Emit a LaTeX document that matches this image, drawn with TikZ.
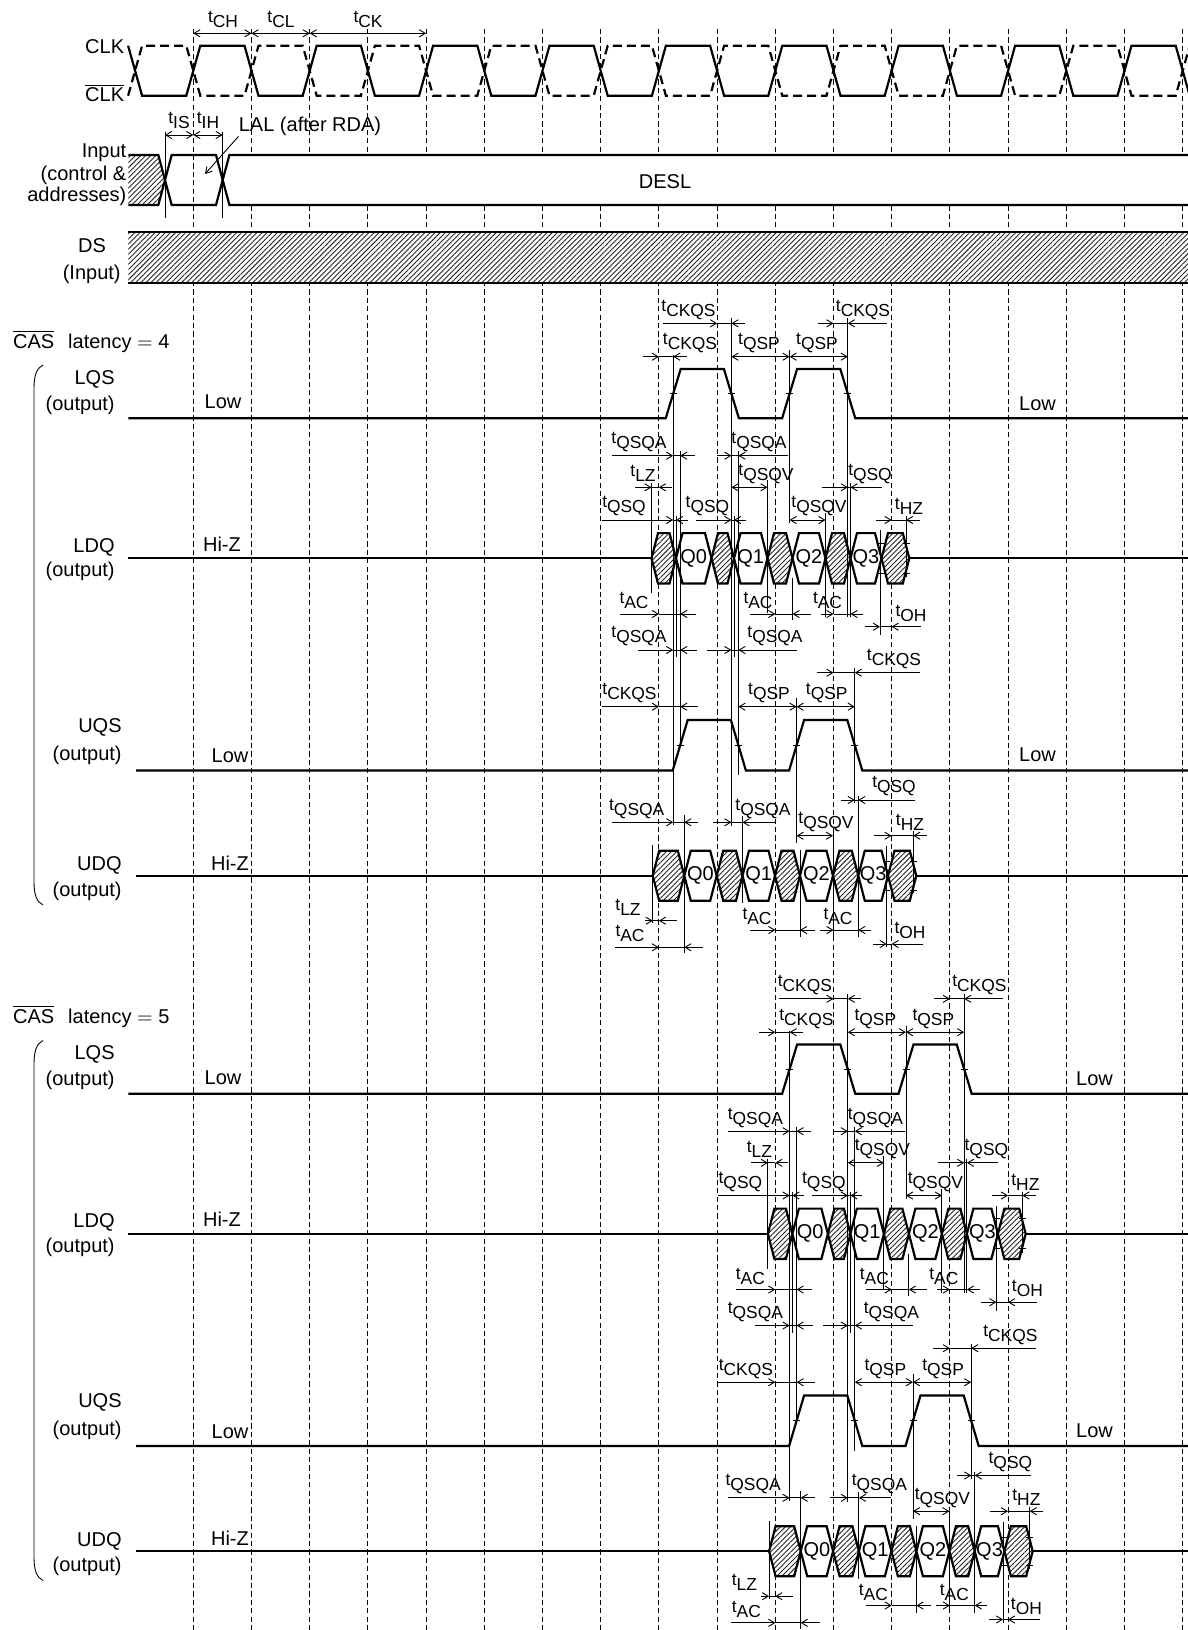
\documentclass[tikz,border=0pt]{standalone}
\usepackage{fontspec}
\setmainfont{Liberation Sans}
\usetikzlibrary{arrows.meta,patterns.meta}

\tikzset{
  sig/.style={line width=1.1pt},
  clkbar/.style={line width=1.1pt,dash pattern=on 4.5pt off 2.5pt},
  gridline/.style={line width=0.5pt,dash pattern=on 2.6pt off 1.6pt},
  dimline/.style={line width=0.45pt},
  refline/.style={line width=0.45pt},
  hatched/.style={pattern={Lines[angle=45,distance=1.8pt,line width=0.45pt]},pattern color=black!85},
  signame/.style={font=\fontsize{10}{12}\selectfont,inner sep=0pt},
  tlabel/.style={font=\fontsize{8.7}{10}\selectfont,inner sep=0pt},
  qlabel/.style={font=\fontsize{10}{12}\selectfont,inner sep=0pt}
}

\newcommand{\tsub}[1]{t\raisebox{-2.5pt}{#1}}
\newcommand{\tlab}[4]{\node[tlabel] (#1) at (#2,{#3-13.5}) {\tsub{#4}};}
\newcommand{\dimin}[5]{%
  \draw[dimline,->] (#2,#1) -- (#3,#1);
  \draw[dimline] (#3,#1) -- (#4,#1);
  \draw[dimline,->] (#5,#1) -- (#4,#1);}
\newcommand{\hatchhex}[4]{%
  \draw[sig,preaction={fill=white},hatched] (#1,#3) -- ({#1+6.5},{#3-#4}) -- ({#2-6.5},{#3-#4}) -- (#2,#3) -- ({#2-6.5},{#3+#4}) -- ({#1+6.5},{#3+#4}) -- cycle;}
\newcommand{\datahex}[6]{%
  \draw[sig,fill=white] (#1,#3) -- ({#1+6.5},{#3-#4}) -- ({#2-6.5},{#3-#4}) -- (#2,#3) -- ({#2-6.5},{#3+#4}) -- ({#1+6.5},{#3+#4}) -- cycle;
  \node[qlabel] (#5) at ({(#1+#2)/2},#3) {#6};}
\newcommand{\edgetick}[2]{\draw[dimline] ({#1-3.5},#2) -- ({#1+3.5},#2);}

\begin{document}
\begin{tikzpicture}[x=0.5pt,y=-0.5pt,>={Straight Barb[length=3pt,width=3.6pt]}]
\useasboundingbox (0,0) rectangle (1188,1630);
\clip (0,0) rectangle (1188,1630);

\foreach \k in {0,...,17}
  \draw[gridline] ({193.3+58.2*\k},29) -- ({193.3+58.2*\k},1630);

% clock
\draw[sig] (128.1,45.7) \foreach \k in {0,2,...,16} {-- ({142.1+58.2*\k},95.7) -- ({186.3+58.2*\k},95.7) -- ({200.3+58.2*\k},45.7) -- ({244.5+58.2*\k},45.7)} -- (1189.7,95.7);
\draw[clkbar] (128.1,95.7) \foreach \k in {0,2,...,16} {-- ({142.1+58.2*\k},45.7) -- ({186.3+58.2*\k},45.7) -- ({200.3+58.2*\k},95.7) -- ({244.5+58.2*\k},95.7)} -- (1189.7,45.7);
\node[signame,anchor=base east] (clk) at (124.5,53.3) {CLK};
\node[signame,anchor=base east] (clkn) at (124.5,101.7) {$\overline{\mbox{CLK}}$};
\draw[dimline,<->] (193.3,33.3) -- (251.5,33.3);
\draw[dimline,<->] (251.5,33.3) -- (309.7,33.3);
\draw[dimline,<->] (309.7,33.3) -- (426.1,33.3);
\tlab{tch}{223}{33.3}{CH}
\tlab{tcl}{281}{33.3}{CL}
\tlab{tck}{368}{33.3}{CK}

% input
\fill[white] (222.7,180) -- (229.4,155) -- (1190,155) -- (1190,205) -- (229.4,205) -- cycle;
\fill[hatched] (128.3,155) -- (158.3,155) -- (165,180) -- (158.3,205) -- (128.3,205) -- cycle;
\draw[sig] (128.3,155) -- (158.3,155) -- (171.7,205) -- (216,205) -- (229.4,155) -- (1190,155);
\draw[sig] (128.3,205) -- (158.3,205) -- (171.7,155) -- (216,155) -- (229.4,205) -- (1190,205);
\draw[refline] (165,131.7) -- (165,218.3);
\draw[refline] (222.7,131.7) -- (222.7,218.3);
\draw[dimline,<->] (165,135) -- (193.3,135);
\draw[dimline,<->] (193.3,135) -- (222.7,135);
\node[tlabel] (tis) at (179,120) {\tsub{IS}};
\node[tlabel] (tih) at (208,120) {\tsub{IH}};
\node[signame] (lal) at (310,126.7) {LAL (after RDA)};
\coordinate (lalend) at (205,174);
\draw[dimline,->] (lal.south west) -- (lalend);
\node[signame] (desl) at (665,181.7) {DESL};
\node[signame,anchor=east] (inp) at (126.7,152.7) {Input};
\node[signame,anchor=east] (inpb) at (126.7,175) {(control \&};
\node[signame,anchor=east] (inpc) at (126.7,196.7) {addresses)};

% DS
\fill[white] (128.3,232.3) rectangle (1190,282.7);
\fill[hatched] (128.3,232.3) rectangle (1190,282.7);
\draw[sig] (128.3,232.3) -- (1190,232.3);
\draw[sig] (128.3,282.7) -- (1190,282.7);
\node[signame] (ds) at (92,245.7) {DS};
\node[signame] (dsb) at (91.7,274) {(Input)};

\foreach \dx/\dy/\lx/\n in {0/0/0/4,116.4/675.5/57/5} {
\begin{scope}[shift={(0,\dy)}]
  \node[signame,anchor=base west] (cas\n) at (12.7,348) {$\overline{\mbox{CAS}}$\hspace{7pt}latency $=$ \n};
  \draw[dimline] (43,365) .. controls (36.5,368) and (34,376) .. (34,388) -- (34,882) .. controls (34,894) and (36.5,902) .. (43,905);
  \node[signame,anchor=east] (lqs\n) at (115,379) {LQS};
  \node[signame,anchor=east] (lqsb\n) at (115,405) {(output)};
  \node[signame] (lqsl\n) at (223,402) {Low};
  \node[signame] (lqsr\n) at ({1037.5+\lx},403.5) {Low};
  \node[signame,anchor=east] (ldq\n) at (115,547) {LDQ};
  \node[signame,anchor=east] (ldqb\n) at (115,571.5) {(output)};
  \node[signame] (ldqz\n) at (222,544) {Hi-Z};
  \node[signame,anchor=east] (uqs\n) at (122,727) {UQS};
  \node[signame,anchor=east] (uqsb\n) at (122,755) {(output)};
  \node[signame] (uqsl\n) at (230,756) {Low};
  \node[signame] (uqsr\n) at ({1037.5+\lx},754.7) {Low};
  \node[signame,anchor=east] (udq\n) at (122,865.5) {UDQ};
  \node[signame,anchor=east] (udqb\n) at (122,891) {(output)};
  \node[signame] (udqz\n) at (230,863) {Hi-Z};
\end{scope}
\begin{scope}[shift={(\dx,\dy)}]
  % LQS
  \draw[sig] ({128.3-\dx},418.3) -- (665.7,418.3) -- (680.7,369) -- (723.9,369) -- (738.9,418.3) -- (782.1,418.3) -- (797.1,369) -- (840.3,369) -- (855.3,418.3) -- ({1190-\dx},418.3);
  \edgetick{673.2}{393.7} \edgetick{731.4}{393.7} \edgetick{789.6}{393.7} \edgetick{847.8}{393.7}
  % LDQ
  \draw[sig] ({128.3-\dx},558.3) -- (651.5,558.3);
  \draw[sig] (909.3,558.3) -- ({1190-\dx},558.3);
  \hatchhex{651.5}{676}{558.3}{25.2}
  \datahex{676}{711.5}{558.3}{25.2}{lqa\n}{Q0}
  \hatchhex{711.5}{734}{558.3}{25.2}
  \datahex{734}{767.5}{558.3}{25.2}{lqb\n}{Q1}
  \hatchhex{767.5}{792.5}{558.3}{25.2}
  \datahex{792.5}{825.5}{558.3}{25.2}{lqc\n}{Q2}
  \hatchhex{825.5}{850.5}{558.3}{25.2}
  \datahex{850.5}{881.5}{558.3}{25.2}{lqd\n}{Q3}
  \hatchhex{881.5}{909.3}{558.3}{25.2}
  \edgetick{880}{543.3} \edgetick{880}{573.3} \edgetick{906}{543.3} \edgetick{906}{573.3}
  % UQS
  \draw[sig] ({136-\dx},770.5) -- (672.7,770.5) -- (687.7,720) -- (730.9,720) -- (745.9,770.5) -- (789.1,770.5) -- (804.1,720) -- (847.3,720) -- (862.3,770.5) -- ({1190-\dx},770.5);
  \edgetick{680.2}{745.2} \edgetick{738.4}{745.2} \edgetick{796.6}{745.2} \edgetick{854.8}{745.2}
  % UDQ
  \draw[sig] ({136-\dx},875.7) -- (652.7,875.7);
  \draw[sig] (916.3,875.7) -- ({1190-\dx},875.7);
  \hatchhex{652.7}{684.3}{875.7}{25}
  \datahex{684.3}{716.7}{875.7}{25}{uqa\n}{Q0}
  \hatchhex{716.7}{742.5}{875.7}{25}
  \datahex{742.5}{775}{875.7}{25}{uqb\n}{Q1}
  \hatchhex{775}{800}{875.7}{25}
  \datahex{800}{833}{875.7}{25}{uqc\n}{Q2}
  \hatchhex{833}{858.3}{875.7}{25}
  \datahex{858.3}{888}{875.7}{25}{uqd\n}{Q3}
  \hatchhex{888}{916.3}{875.7}{25}
  \edgetick{886.7}{861.7} \edgetick{886.7}{890} \edgetick{913.3}{861.7} \edgetick{913.3}{890}
  % reference lines
  \draw[refline] (673.2,355) -- (673.2,825);
  \draw[refline] (731.4,318) -- (731.4,826);
  \draw[refline] (789.6,350) -- (789.6,523);
  \draw[refline] (847.8,318) -- (847.8,617);
  \draw[refline] (680.2,451) -- (680.2,745);
  \draw[refline] (738.4,451) -- (738.4,775);
  \draw[refline] (796.6,698) -- (796.6,843);
  \draw[refline] (854.8,668) -- (854.8,803);
  \draw[refline] (651.5,483) -- (651.5,593);
  \draw[refline] (676,516) -- (676,657);
  \draw[refline] (734,516) -- (734,657);
  \draw[refline] (767.5,480) -- (767.5,613);
  \draw[refline] (792.5,578) -- (792.5,620);
  \draw[refline] (825.5,513) -- (825.5,617);
  \draw[refline] (850.5,483) -- (850.5,617);
  \draw[refline] (880,530) -- (880,635);
  \draw[refline] (906,516) -- (906,577);
  \draw[refline] (652.7,845) -- (652.7,923);
  \draw[refline] (684.3,815) -- (684.3,953);
  \draw[refline] (742.5,816) -- (742.5,903);
  \draw[refline] (800,850) -- (800,937);
  \draw[refline] (833,831) -- (833,937);
  \draw[refline] (858.3,796) -- (858.3,937);
  \draw[refline] (886.7,846) -- (886.7,947);
  \draw[refline] (913.3,831) -- (913.3,893);
  % LQS / LDQ timing
  \dimin{323.3}{663}{717.1}{731.4}{745}
  \tlab{cka\n}{688.5}{323.3}{CKQS}
  \dimin{323.3}{818}{833.5}{847.8}{886.7}
  \tlab{ckb\n}{863}{323.3}{CKQS}
  \dimin{356.7}{643}{658.9}{673.2}{686.7}
  \tlab{ckc\n}{690}{356.7}{CKQS}
  \draw[dimline,<->] (731.4,356.7) -- (789.6,356.7);
  \tlab{spa\n}{759}{356.7}{QSP}
  \draw[dimline,<->] (789.6,356.7) -- (847.8,356.7);
  \tlab{spb\n}{817}{356.7}{QSP}
  \dimin{455.7}{612}{673.2}{680.2}{695}
  \tlab{qaa\n}{639}{455.7}{QSQA}
  \dimin{455.7}{716.7}{731.4}{738.4}{788.3}
  \tlab{qab\n}{759}{455.7}{QSQA}
  \dimin{487.3}{635}{651.5}{658.9}{671.7}
  \tlab{lza\n}{643}{487.3}{LZ}
  \draw[dimline,<->] (731.4,487.3) -- (767.5,487.3);
  \tlab{qva\n}{766}{487.3}{QSQV}
  \dimin{487.3}{822}{847.8}{850.5}{881.7}
  \tlab{qqa\n}{870}{487.3}{QSQ}
  \dimin{520}{601.7}{673.2}{676}{688}
  \tlab{qqb\n}{624}{520}{QSQ}
  \dimin{520}{696}{731.4}{734}{746}
  \tlab{qqc\n}{707.5}{520}{QSQ}
  \draw[dimline,<->] (789.6,520) -- (825.5,520);
  \tlab{qvb\n}{819}{520}{QSQV}
  \dimin{520}{876}{891.6}{906}{920}
  \tlab{hza\n}{909}{520}{HZ}
  \dimin{614}{620}{658.9}{680.2}{695.5}
  \tlab{aca\n}{634}{614}{AC}
  \dimin{614}{750}{775.3}{792.5}{810.5}
  \tlab{acb\n}{758}{614}{AC}
  \dimin{614}{821}{833.5}{850.5}{863.3}
  \tlab{acc\n}{827.5}{614}{AC}
  \dimin{626.7}{865}{880}{891.6}{921}
  \tlab{oha\n}{911}{626.7}{OH}
  \dimin{650}{638.3}{673.2}{680.2}{696.7}
  \tlab{qac\n}{639}{650}{QSQA}
  \dimin{650}{706.7}{731.4}{738.4}{796.7}
  \tlab{qad\n}{775}{650}{QSQA}
  % UQS / UDQ timing
  \dimin{672.7}{816.7}{833.5}{854.8}{920}
  \tlab{ckd\n}{894}{672.7}{CKQS}
  \dimin{706.7}{601.7}{658.9}{680.2}{698.3}
  \tlab{cke\n}{629.5}{706.7}{CKQS}
  \draw[dimline,<->] (738.4,706.7) -- (796.6,706.7);
  \tlab{spc\n}{769}{706.7}{QSP}
  \draw[dimline,<->] (796.6,706.7) -- (854.8,706.7);
  \tlab{spd\n}{826.7}{706.7}{QSP}
  \dimin{800}{841}{854.8}{858.3}{915}
  \tlab{qqd\n}{894}{800}{QSQ}
  \dimin{822.3}{611.7}{673.2}{684.3}{698.3}
  \tlab{qae\n}{636.7}{822.3}{QSQA}
  \dimin{822.3}{713.3}{731.4}{742.5}{775}
  \tlab{qaf\n}{763}{822.3}{QSQA}
  \draw[dimline,<->] (796.6,835.7) -- (833,835.7);
  \tlab{qvc\n}{826}{835.7}{QSQV}
  \dimin{835.7}{874}{891.6}{913.3}{926.7}
  \tlab{hzb\n}{910}{835.7}{HZ}
  \dimin{920.7}{645}{652.7}{658.9}{676.7}
  \tlab{lzb\n}{628}{920.7}{LZ}
  \dimin{930}{750}{775.3}{800}{815}
  \tlab{acd\n}{757}{930}{AC}
  \dimin{930}{820}{833.5}{858.3}{871}
  \tlab{ace\n}{838}{930}{AC}
  \dimin{944}{873}{886.7}{891.6}{923.3}
  \tlab{ohb\n}{910}{944}{OH}
  \dimin{947.3}{615}{658.9}{684.3}{703.3}
  \tlab{acf\n}{630}{947.3}{AC}
\end{scope}
}
\end{tikzpicture}
\end{document}
